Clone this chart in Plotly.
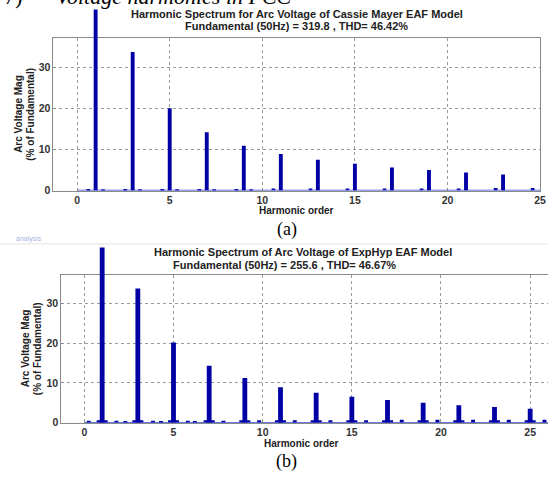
import plotly.graph_objects as go

# ---- data -------------------------------------------------------------
# Panel (a): Cassie-Mayer EAF model, odd harmonics (% of fundamental)
orders_a = [1, 3, 5, 7, 9, 11, 13, 15, 17, 19, 21, 23]
mag_a = [100.0, 33.7, 20.0, 14.2, 10.9, 8.9, 7.5, 6.5, 5.6, 5.0, 4.4, 3.9]
# small interharmonic components beside the main lines
inter_x_a = [0.6, 1.4, 2.6, 3.4, 4.6, 5.4, 6.6, 7.4, 8.6, 9.4, 10.6, 12.6,
             14.6, 16.6, 18.6, 20.6, 22.6, 24.6]
inter_y_a = [0.4, 0.3, 0.4, 0.3, 0.4, 0.3, 0.4, 0.3, 0.4, 0.3, 0.5, 0.5,
             0.5, 0.5, 0.5, 0.5, 0.6, 0.6]

# Panel (b): ExpHyp EAF model
orders_b = [1, 3, 5, 7, 9, 11, 13, 15, 17, 19, 21, 23, 25]
mag_b = [100.0, 33.7, 20.1, 14.3, 11.2, 8.9, 7.5, 6.5, 5.7, 5.0, 4.4, 3.9, 3.5]
inter_x_b = [0.25, 1.8, 2.3, 3.85, 4.3, 5.8, 6.2, 7.8, 9.8, 11.8, 13.8,
             15.8, 17.8, 19.8, 21.8, 23.8, 25.8]
inter_y_b = [0.5, 0.5, 0.4, 0.5, 0.4, 0.5, 0.4, 0.5, 0.6, 0.6, 0.6,
             0.6, 0.7, 0.7, 0.7, 0.7, 0.7]
leak_b = 0.6  # spectral leakage at h +/- 0.2 around each line

x_ticks = [0, 5, 10, 15, 20, 25]
y_ticks = [0, 10, 20, 30]

title_a = ["Harmonic Spectrum for Arc Voltage of Cassie Mayer EAF Model",
           "Fundamental (50Hz) = 319.8 , THD= 46.42%"]
title_b = ["Harmonic Spectrum of Arc Voltage of ExpHyp EAF Model",
           "Fundamental (50Hz) = 255.6 , THD= 46.67%"]

# ---- layout helpers ---------------------------------------------------
W, H = 554, 480
BAR = "#0000a4"
BASE = "#3348d4"
SANS = "Liberation Sans, Arial, sans-serif"
SERIF = "Liberation Serif, Times New Roman, serif"

Y_TOP = 37.2      # top of the boxed axes
Y_TALL = 44.0     # the stems may rise above the box up to here


def px(x):
    return x / W


def py(y):
    return 1 - y / H


# pixel geometry of both panels: left, right, bottom (y=0), top (y=Y_TOP)
PA = dict(l=54, r=546, b=193, t=38, xr=[-1.28, 25])
PB = dict(l=62, r=554, b=428, t=278, xr=[-1.29, 26.0])


def tall_top(p):
    scale = (p["b"] - p["t"]) / Y_TOP
    return p["b"] - Y_TALL * scale


def bold_labels(vals):
    return ["<b>%g</b>" % v for v in vals]


fig = go.Figure()

# panel (a)
fig.add_trace(go.Bar(x=inter_x_a, y=inter_y_a, width=[0.2] * len(inter_x_a),
                     marker=dict(color=BAR, line=dict(width=0)),
                     xaxis="x", yaxis="y", showlegend=False))
fig.add_trace(go.Scatter(x=[0, 25], y=[0, 0], mode="lines",
                         line=dict(color=BASE, width=1.5),
                         xaxis="x", yaxis="y", cliponaxis=False,
                         showlegend=False, hoverinfo="skip"))
fig.add_trace(go.Bar(x=orders_a, y=mag_a, width=[0.21] * len(orders_a),
                     marker=dict(color=BAR, line=dict(width=0)),
                     xaxis="x3", yaxis="y3", showlegend=False))

# panel (b)
leak_x = [h + d for h in orders_b for d in (-0.2, 0.2)]
fig.add_trace(go.Bar(x=leak_x, y=[leak_b] * len(leak_x),
                     width=[0.22] * len(leak_x),
                     marker=dict(color=BAR, line=dict(width=0)),
                     xaxis="x2", yaxis="y2", showlegend=False))
fig.add_trace(go.Bar(x=inter_x_b, y=inter_y_b, width=[0.22] * len(inter_x_b),
                     marker=dict(color=BAR, line=dict(width=0)),
                     xaxis="x2", yaxis="y2", showlegend=False))
fig.add_trace(go.Scatter(x=[0, 26.5], y=[0, 0], mode="lines",
                         line=dict(color=BASE, width=1.5),
                         xaxis="x2", yaxis="y2", cliponaxis=False,
                         showlegend=False, hoverinfo="skip"))
fig.add_trace(go.Bar(x=orders_b, y=mag_b, width=[0.27] * len(orders_b),
                     marker=dict(color=BAR, line=dict(width=0)),
                     xaxis="x4", yaxis="y4", showlegend=False))

tickfont = dict(family=SANS, size=10.5, color="#333333")
axis_common = dict(showline=True, linecolor="#8a8a8a", linewidth=1,
                   showgrid=True, gridcolor="#9a9a9a", griddash="dot",
                   gridwidth=1, zeroline=False, ticks="inside", ticklen=3,
                   tickcolor="#8a8a8a", tickfont=tickfont, tickmode="array")
xt = dict(tickvals=x_ticks, ticktext=bold_labels(x_ticks))
yt = dict(tickvals=y_ticks, ticktext=bold_labels(y_ticks))
hidden = dict(visible=False, showgrid=False, zeroline=False, fixedrange=True)

fig.update_layout(
    width=W, height=H, margin=dict(l=0, r=0, t=0, b=0),
    paper_bgcolor="white", plot_bgcolor="rgba(0,0,0,0)", barmode="overlay",
    xaxis=dict(domain=[px(PA["l"]), px(PA["r"])], range=PA["xr"],
               anchor="y", mirror=True, **xt, **axis_common),
    yaxis=dict(domain=[py(PA["b"]), py(PA["t"])], range=[0, Y_TOP],
               anchor="x", mirror=True, **yt, **axis_common),
    xaxis2=dict(domain=[px(PB["l"]), 1.0], range=PB["xr"],
                anchor="y2", mirror=True, **xt, **axis_common),
    yaxis2=dict(domain=[py(PB["b"]), py(PB["t"])], range=[0, Y_TOP],
                anchor="x2", mirror=False, **yt, **axis_common),
    # taller companion axes for the harmonic stems
    xaxis3=dict(domain=[px(PA["l"]), px(PA["r"])], range=PA["xr"],
                anchor="y3", **hidden),
    yaxis3=dict(domain=[py(PA["b"]), py(tall_top(PA))], range=[0, Y_TALL],
                anchor="x3", **hidden),
    xaxis4=dict(domain=[px(PB["l"]), 1.0], range=PB["xr"],
                anchor="y4", **hidden),
    yaxis4=dict(domain=[py(PB["b"]), py(tall_top(PB))], range=[0, Y_TALL],
                anchor="x4", **hidden),
)

ann = []


def text(x, y, s, size, color="#222222", family=SANS, bold=True, angle=0,
         italic=False, xanchor="center", yanchor="middle", yshift=0):
    if bold:
        s = "<b>" + s + "</b>"
    if italic:
        s = "<i>" + s + "</i>"
    ann.append(dict(x=px(x), y=py(y), xref="paper", yref="paper", text=s,
                    showarrow=False, xanchor=xanchor, yanchor=yanchor,
                    textangle=angle, yshift=yshift,
                    font=dict(family=family, size=size, color=color)))


# titles
text(300, 14, title_a[0], 11)
text(300, 26, title_a[1], 11)
text(306, 255, title_b[0], 11)
text(288, 268, title_b[1], 11)

# axis titles
for yc, xc1, xc2 in ((115.5, 18, 30), (353, 26, 38)):
    text(xc1, yc, "Arc Voltage Mag", 10, angle=-90)
    text(xc2, yc, "(% of Fundamental)", 10, angle=-90)
text(300, 213, "Harmonic order", 10)
text(305, 449, "Harmonic order", 10)

# sub-figure captions
text(290, 232, "(a)", 18, color="#000000", family=SERIF, bold=False)
text(290, 467, "(b)", 18, color="#000000", family=SERIF, bold=False)

# heading of the page section, running off the top edge
text(2, 0, "7)", 22, color="#000000", family=SERIF, bold=False,
     xanchor="left", yanchor="bottom", yshift=-11)
text(55, 0, "Voltage harmonics in PCC", 22, color="#000000", family=SERIF,
     bold=False, italic=True, xanchor="left", yanchor="bottom", yshift=-11)
text(14, 242, "analysis", 7, color="#a8b4e8", bold=False, xanchor="left")

fig.update_layout(annotations=ann)

# separator line between the two panels
fig.add_shape(type="line", xref="paper", yref="paper",
              x0=0, x1=1, y0=py(247), y1=py(247),
              line=dict(color="#e2e2e2", width=1))

fig.write_html("out.html")
